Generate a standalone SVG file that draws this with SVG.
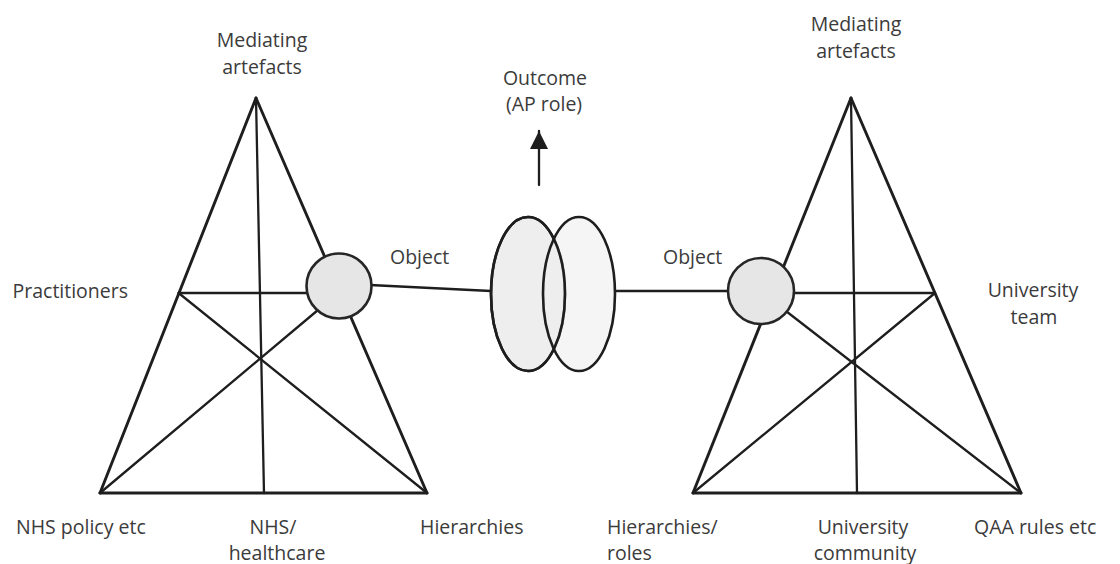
<svg xmlns="http://www.w3.org/2000/svg" width="1120" height="564" viewBox="0 0 1120 564">
<style>
.lbl{font-family:"Open Sans","Liberation Sans",sans-serif;font-size:19.5px;fill:#3b3b3b}
.c{text-anchor:middle}
.edge{stroke:#1e1e1e;stroke-width:2.9;fill:none;stroke-linecap:round}
.inner{stroke:#1e1e1e;stroke-width:2.3;fill:none;stroke-linecap:round}
.obj{fill:#e6e6e6;stroke:#262626;stroke-width:2.6}
.out{fill:#eeeeee;stroke:#1e1e1e;stroke-width:2.6}
</style>
<defs>
<marker id="ah" viewBox="0 0 10 10" refX="10" refY="5" markerWidth="18" markerHeight="18" markerUnits="userSpaceOnUse" orient="auto">
<path d="M0,0 L10,5 L0,10 z" fill="#1e1e1e"/>
</marker>
</defs>
<rect width="1120" height="564" fill="#ffffff"/>

<g id="connectors">
<!-- left triangle -->
<line class="edge" x1="256" y1="98" x2="100" y2="493"/>
<line class="edge" x1="256" y1="98" x2="427" y2="493"/>
<line class="edge" x1="100" y1="493" x2="427" y2="493"/>
<line class="inner" x1="256" y1="98" x2="264" y2="493"/>
<line class="inner" x1="178.6" y1="293" x2="308" y2="293"/>
<line class="inner" x1="178.6" y1="293" x2="427" y2="493"/>
<line class="inner" x1="100" y1="493" x2="318" y2="310"/>
<line class="inner" x1="370" y1="285" x2="491" y2="291"/>
<!-- right triangle -->
<line class="edge" x1="851" y1="98" x2="693" y2="493"/>
<line class="edge" x1="851" y1="98" x2="1021" y2="493"/>
<line class="edge" x1="693" y1="493" x2="1021" y2="493"/>
<line class="inner" x1="851" y1="98" x2="857" y2="493"/>
<line class="inner" x1="792" y1="293" x2="935" y2="293"/>
<line class="inner" x1="935" y1="293" x2="693" y2="493"/>
<line class="inner" x1="782" y1="308" x2="1021" y2="493"/>
<line class="inner" x1="616" y1="291" x2="729" y2="291"/>
<!-- outcome arrow -->
<line class="inner" x1="539" y1="185" x2="539" y2="131" marker-end="url(#ah)"/>
</g>

<g id="outcome">
<ellipse class="out" cx="528" cy="294" rx="37" ry="77"/>
<ellipse class="out" cx="579" cy="294" rx="36" ry="77" fill-opacity="0.6"/>
<ellipse cx="528" cy="294" rx="37" ry="77" fill="none" stroke="#1e1e1e" stroke-width="2.6"/>
<text class="lbl c" x="545" y="85">Outcome</text>
<text class="lbl c" x="544" y="111">(AP role)</text>
</g>

<g id="left-object">
<circle class="obj" cx="339" cy="286" r="32.5"/>
<text class="lbl" x="390" y="264">Object</text>
</g>
<g id="right-object">
<circle class="obj" cx="761" cy="291" r="33"/>
<text class="lbl" x="663" y="264">Object</text>
</g>

<g id="left-mediating"><text class="lbl c" x="262" y="47">Mediating</text><text class="lbl c" x="262" y="74">artefacts</text></g>
<g id="left-subject"><text class="lbl" x="12.5" y="298">Practitioners</text></g>
<g id="left-rules"><text class="lbl" x="16" y="534">NHS policy etc</text></g>
<g id="left-community"><text class="lbl c" x="273" y="534">NHS/</text><text class="lbl c" x="277" y="560">healthcare</text></g>
<g id="left-division"><text class="lbl" x="420" y="534">Hierarchies</text></g>

<g id="right-mediating"><text class="lbl c" x="856" y="31">Mediating</text><text class="lbl c" x="856" y="58">artefacts</text></g>
<g id="right-subject"><text class="lbl c" x="1033" y="297">University</text><text class="lbl c" x="1034" y="324">team</text></g>
<g id="right-division"><text class="lbl" x="607" y="534">Hierarchies/</text><text class="lbl" x="607" y="560">roles</text></g>
<g id="right-community"><text class="lbl c" x="863" y="534">University</text><text class="lbl c" x="865" y="560">community</text></g>
<g id="right-rules"><text class="lbl" x="974" y="534">QAA rules etc</text></g>
</svg>
